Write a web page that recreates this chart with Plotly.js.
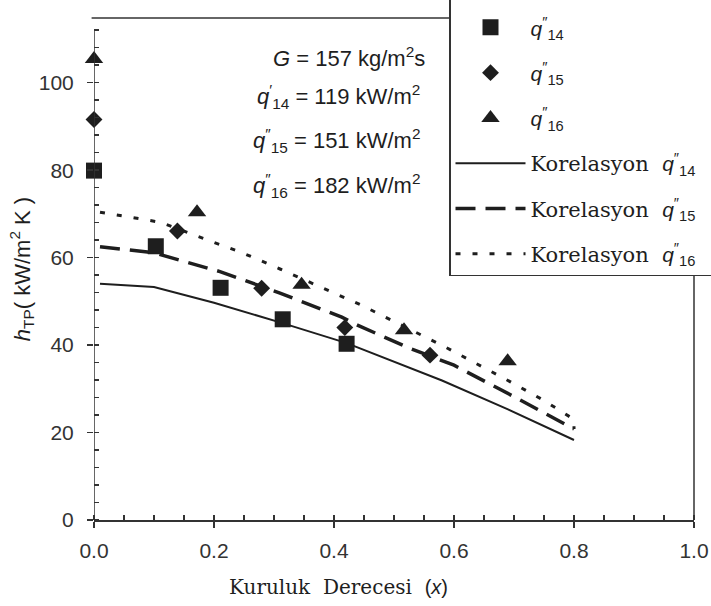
<!DOCTYPE html>
<html>
<head>
<meta charset="utf-8">
<script src="https://cdn.plot.ly/plotly-3.0.1.min.js"></script>
<style>html,body{margin:0;padding:0;background:#fff;}</style>
</head>
<body>
<div id="chart" style="width:711px;height:606px;"></div>
<script>
// ---- data ----
const xSquare = [0.0, 0.103, 0.211, 0.3145, 0.421];
const ySquare = [79.9, 62.6, 53.1, 45.9, 40.3];

const xDiamond = [0.0, 0.139, 0.2794, 0.418, 0.56];
const yDiamond = [91.6, 66.1, 53.0, 44.0, 37.7];

const xTriangle = [0.0, 0.1717, 0.346, 0.5167, 0.6894];
const yTriangle = [105.4, 70.4, 53.8, 43.4, 36.3];

const xCorr14 = [0.01, 0.1, 0.2, 0.31, 0.42, 0.58, 0.69, 0.8];
const yCorr14 = [54.0, 53.3, 49.7, 45.2, 40.5, 31.9, 25.3, 18.3];

const xCorr15 = [0.01, 0.1, 0.21, 0.31, 0.413, 0.44, 0.524, 0.6, 0.7, 0.8];
const yCorr15 = [62.5, 61.1, 56.8, 51.9, 46.4, 44.5, 39.4, 35.4, 28.2, 20.8];

const xCorr16 = [0.01, 0.11, 0.19, 0.249, 0.31, 0.39, 0.446, 0.585, 0.638, 0.694, 0.749, 0.8, 0.8];
const yCorr16 = [70.4, 68.1, 64.0, 61.0, 57.4, 52.5, 49.1, 39.6, 35.8, 31.6, 27.4, 23.0, 20.8];

const xTickVals = [0, 0.2, 0.4, 0.6, 0.8, 1.0];
const xTickText = ['0.0', '0.2', '0.4', '0.6', '0.8', '1.0'];
const yTickVals = [0, 20, 40, 60, 80, 100];
const yTickText = ['0', '20', '40', '60', '80', '100'];

const qLabel = (n, prime) => '<span style="font-family:Liberation Sans"><i>q</i><sup>' + prime + '</sup><sub>' + n + '</sub></span>';
const pad = '&nbsp;&nbsp;&nbsp;&nbsp;&nbsp;&nbsp;';
const infoLines = [
  '<i>G</i> = 157 kg/m<sup>2</sup>s',
  '<i>q</i><sup>′</sup><sub>14</sub> = 119 kW/m<sup>2</sup>',
  '<i>q</i><sup>″</sup><sub>15</sub> = 151 kW/m<sup>2</sup>',
  '<i>q</i><sup>″</sup><sub>16</sub> = 182 kW/m<sup>2</sup>'
];

// ---- styling ----
const INK = '#1e1e1e';
const AX = '#333';
const yTop = 114.8;
const yAxisLineTop = 112;

const traces = [
  {x: xCorr14, y: yCorr14, mode: 'lines', name: 'Korelasyon&nbsp;&nbsp;' + qLabel('14', '″') + pad,
   line: {color: INK, width: 2}, legendgroup: 'd', legendrank: 4},
  {x: xCorr15, y: yCorr15, mode: 'lines', name: 'Korelasyon&nbsp;&nbsp;' + qLabel('15', '″') + pad,
   line: {color: INK, width: 3.5, dash: '20px,10px'}, legendgroup: 'e', legendrank: 5},
  {x: xCorr16, y: yCorr16, mode: 'lines', name: 'Korelasyon&nbsp;&nbsp;' + qLabel('16', '″') + pad,
   line: {color: INK, width: 3, dash: '5px,12px'}, legendgroup: 'f', legendrank: 6},
  {x: xSquare, y: ySquare, mode: 'markers', name: qLabel('14', '″'), cliponaxis: false,
   marker: {symbol: 'square', size: 16, color: INK}, legendgroup: 'a', legendrank: 1},
  {x: xDiamond, y: yDiamond, mode: 'markers', name: qLabel('15', '″'), cliponaxis: false,
   marker: {symbol: 'diamond', size: 13, color: INK}, legendgroup: 'b', legendrank: 2},
  {x: xTriangle, y: yTriangle, mode: 'markers', name: qLabel('16', '″'), cliponaxis: false,
   marker: {symbol: 'triangle-up', size: 16, color: INK}, legendgroup: 'c', legendrank: 3}
];

const plotL = 94, plotT = 18, plotW = 600, plotH = 502;
const px2x = p => (p - plotL) / plotW;
const px2y = p => (plotT + plotH - p) / plotH;

const infoY = [56.7, 97, 140.5, 185];
const infoX = [427, 421.7, 421.7, 421.7];
const annotations = infoLines.map((t, i) => ({
  text: t, xref: 'paper', yref: 'paper', x: px2x(infoX[i]), y: px2y(infoY[i]),
  xanchor: 'right', yanchor: 'middle', showarrow: false,
  font: {family: 'Liberation Sans', size: 22, color: INK}
}));
annotations.push({
  text: 'Kuruluk&nbsp;&nbsp;Derecesi&nbsp;&nbsp;<span style="font-family:Liberation Sans">(<i>x</i>)</span>',
  xref: 'paper', yref: 'paper', x: px2x(338), y: px2y(587),
  xanchor: 'center', yanchor: 'middle', showarrow: false,
  font: {family: 'DejaVu Serif', size: 20, color: INK}
});

const layout = {
  width: 711, height: 606,
  margin: {l: 94, r: 17, t: 18, b: 86, autoexpand: false},
  paper_bgcolor: '#fff', plot_bgcolor: '#fff',
  showlegend: true,
  xaxis: {
    range: [0, 1], tickmode: 'array', tickvals: xTickVals, ticktext: xTickText,
    ticks: 'outside', ticklen: 6, tickwidth: 1.5, tickcolor: AX,
    showline: true, linecolor: AX, linewidth: 1.5, showgrid: false, zeroline: false,
    tickfont: {family: 'Liberation Sans', size: 21, color: AX},
    ticklabelstandoff: 5,
    minor: {tickmode: 'linear', tick0: 0, dtick: 0.05, ticks: 'inside', ticklen: 5, tickwidth: 1.5, tickcolor: AX, showgrid: false}
  },
  yaxis: {
    range: [0, yTop], tickmode: 'array', tickvals: yTickVals, ticktext: yTickText,
    ticks: 'outside', ticklen: 6, tickwidth: 1.5, tickcolor: AX,
    showline: false, showgrid: false, zeroline: false,
    tickfont: {family: 'Liberation Sans', size: 21, color: AX},
    ticklabelstandoff: 9,
    minor: {tickmode: 'linear', tick0: 0, dtick: 4, ticks: 'inside', ticklen: 5, tickwidth: 1.5, tickcolor: AX, showgrid: false},
    title: {text: '<i>h</i><sub>TP</sub>( kW/m<sup>2</sup> K )', standoff: 2,
            font: {family: 'Liberation Sans', size: 22, color: INK}}
  },
  legend: {
    x: px2x(449), xanchor: 'left', y: px2y(-6), yanchor: 'top',
    bgcolor: '#fff', bordercolor: AX, borderwidth: 1.5,
    font: {family: 'DejaVu Serif', size: 21, color: INK},
    title: {text: '&nbsp;', font: {size: 9}},
    traceorder: 'grouped', tracegroupgap: 15, itemwidth: 70
  },
  shapes: [
    {type: 'line', xref: 'x', yref: 'y', x0: 0, x1: 0, y0: 0, y1: yAxisLineTop, line: {color: AX, width: 1.5}},
    {type: 'line', xref: 'paper', yref: 'paper', x0: -0.004, x1: 1, y0: 1, y1: 1, line: {color: AX, width: 1.5}},
    {type: 'line', xref: 'paper', yref: 'paper', x0: 1, x1: 1, y0: 0, y1: 1, line: {color: AX, width: 1.5}}
  ],
  annotations: annotations
};

Plotly.newPlot('chart', traces, layout, {displayModeBar: false, staticPlot: true});
</script>
</body>
</html>
